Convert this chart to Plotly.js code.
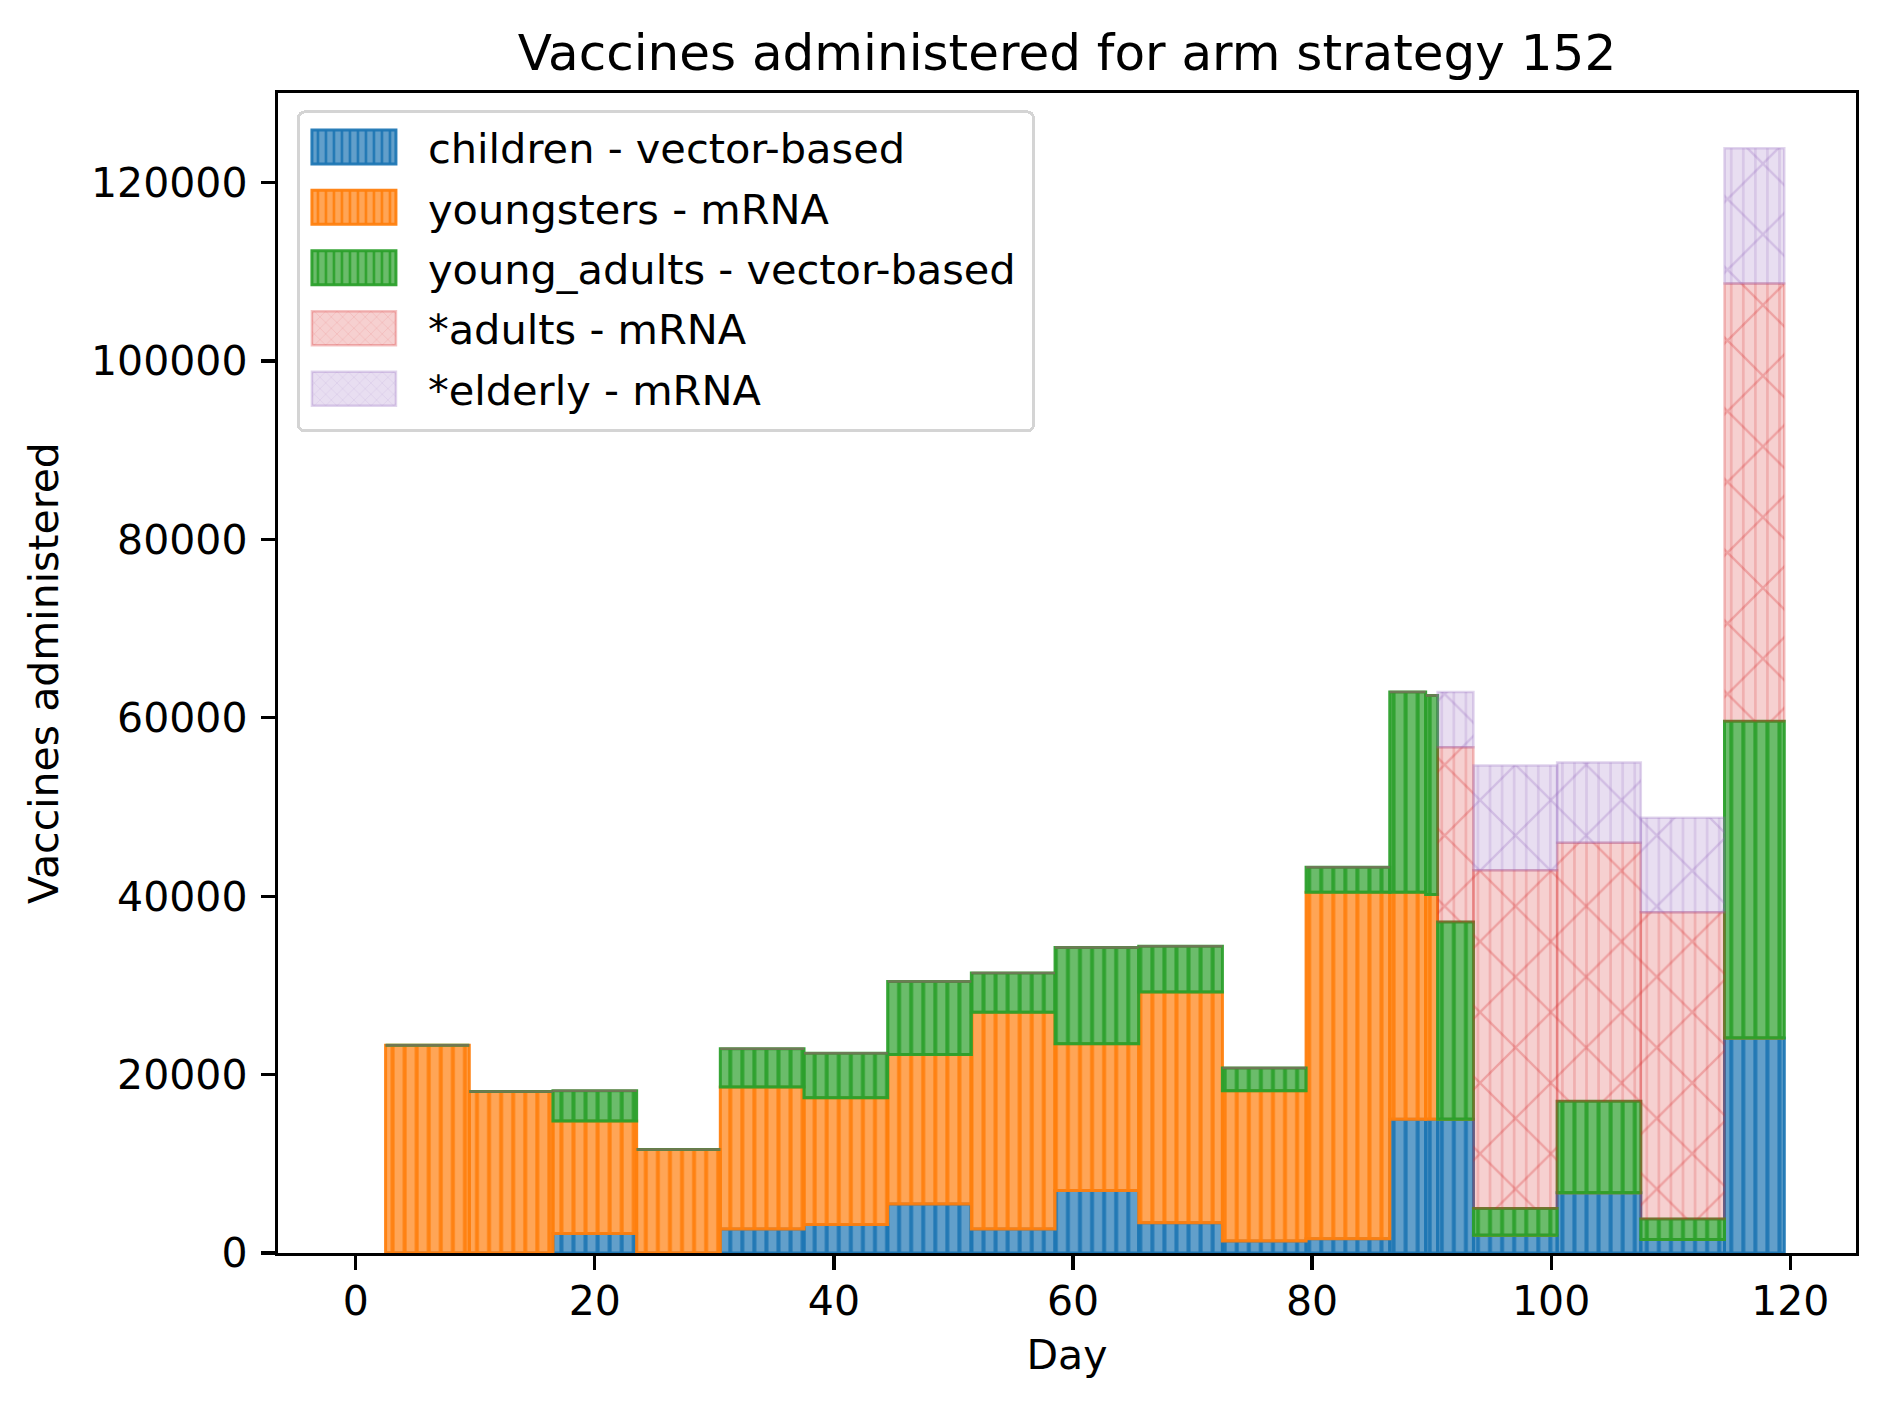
<!DOCTYPE html>
<html>
<head>
<meta charset="utf-8">
<script src="https://cdn.plot.ly/plotly-3.0.1.min.js"></script>
<style>html,body{margin:0;padding:0;background:#fff;}</style>
</head>
<body>
<div id="chart" style="width:1887px;height:1408px;"></div>
<script>
// Segments of days (bar edges) and vaccines administered per day in each segment, per group
const segStart = [2.5, 9.5, 16.5, 23.5, 30.5, 37.5, 44.5, 51.5, 58.5, 65.5, 72.5, 79.5, 86.5, 89.5, 90.5, 93.5, 100.5, 107.5, 114.5];
const segEnd   = [9.5, 16.5, 23.5, 30.5, 37.5, 44.5, 51.5, 58.5, 65.5, 72.5, 79.5, 86.5, 89.5, 90.5, 93.5, 100.5, 107.5, 114.5, 119.5];

const children    = [0, 0, 2200, 0, 2700, 3200, 5500, 2700, 7000, 3400, 1350, 1600, 15000, 15000, 15000, 2000, 6750, 1500, 24100];
const youngsters  = [23300, 18100, 12600, 11600, 15900, 14200, 16750, 24300, 16450, 25850, 16850, 38850, 25450, 25200, 0, 0, 0, 0, 0];
const youngAdults = [0, 0, 3400, 0, 4300, 5000, 8200, 4400, 10800, 5150, 2550, 2800, 22450, 22300, 22100, 3000, 10250, 2300, 35500];
const adults      = [0, 0, 0, 0, 0, 0, 0, 0, 0, 0, 0, 0, 0, 0, 19600, 37900, 29000, 34400, 49100];
const elderly     = [0, 0, 0, 0, 0, 0, 0, 0, 0, 0, 0, 0, 0, 0, 6200, 11750, 9000, 10600, 15150];

const seriesNames = ['children - vector-based', 'youngsters - mRNA', 'young_adults - vector-based', '*adults - mRNA', '*elderly - mRNA'];
const seriesValues = [children, youngsters, youngAdults, adults, elderly];

const xTicks = [0, 20, 40, 60, 80, 100, 120];
const yTicks = [0, 20000, 40000, 60000, 80000, 100000, 120000];

// styles (not data)
const styles = [
  {rgb: [31, 119, 180],  face: 0.7,  edge: 0.95, hatch: false},
  {rgb: [255, 127, 14],  face: 0.7,  edge: 0.95, hatch: false},
  {rgb: [44, 160, 44],   face: 0.7,  edge: 0.95, hatch: false},
  {rgb: [214, 39, 40],   face: 0.22, edge: 0.28, hatch: true},
  {rgb: [148, 103, 189], face: 0.22, edge: 0.28, hatch: true}
];

const FONT = 'DejaVu Sans, Verdana, sans-serif';
const centers = segStart.map((s, i) => (s + segEnd[i]) / 2);
const widths = segStart.map((s, i) => segEnd[i] - s);

let base = segStart.map(() => 0);
const traces = [];
seriesValues.forEach((vals, k) => {
  const st = styles[k];
  const rgba = a => 'rgba(' + st.rgb.join(',') + ',' + a + ')';
  const b = base.slice();
  traces.push({
    type: 'bar', x: centers, y: vals, base: b, width: widths,
    name: seriesNames[k], legendgroup: 'g' + k,
    hoverinfo: 'skip',
    marker: {
      color: rgba(st.face),
      line: {color: rgba(st.edge), width: st.hatch ? 2.5 : 3},
      pattern: st.hatch
        ? {shape: 'x', fgcolor: rgba(st.edge), bgcolor: rgba(st.face), size: 50, solidity: 0.09, fillmode: 'replace'}
        : {shape: '|', fgcolor: rgba(st.edge), bgcolor: rgba(st.face), size: 12.06, solidity: 0.33, fillmode: 'replace'}
    }
  });
  if (st.hatch) {
    traces.push({
      type: 'bar', x: centers, y: vals, base: b, width: widths,
      showlegend: false, hoverinfo: 'skip',
      marker: {
        color: 'rgba(0,0,0,0)',
        line: {width: 0},
        pattern: {shape: '|', fgcolor: rgba(0.2), bgcolor: 'rgba(0,0,0,0)', size: 12.06, solidity: 0.22, fillmode: 'replace'}
      }
    });
  }
  base = base.map((v, i) => v + vals[i]);
});
const yMax = Math.max(...base) * 1.05;

const layout = {
  width: 1887, height: 1408,
  paper_bgcolor: '#fff', plot_bgcolor: '#fff',
  margin: {l: 278, r: 31, t: 93, b: 155},
  barmode: 'overlay',
  font: {family: FONT, color: '#000', size: 41},
  title: {
    text: 'Vaccines administered for arm strategy 152',
    font: {family: FONT, size: 50, color: '#000'},
    x: 0.5, xref: 'paper', xanchor: 'center',
    y: 1 - 52 / 1408, yref: 'container', yanchor: 'middle'
  },
  xaxis: {
    range: [-6.5, 125.5], tickvals: xTicks, ticktext: xTicks.map(String),
    showgrid: false, zeroline: false,
    showline: true, linecolor: '#000', linewidth: 3.3, mirror: true,
    ticks: 'outside', ticklen: 14, tickwidth: 3.3, tickcolor: '#000',
    ticklabelstandoff: -5,
    tickfont: {family: FONT, size: 41, color: '#000'},
    title: {text: 'Day', font: {family: FONT, size: 41, color: '#000'}, standoff: 17}
  },
  yaxis: {
    range: [0, yMax], tickvals: yTicks, ticktext: yTicks.map(String),
    showgrid: false, zeroline: false,
    showline: true, linecolor: '#000', linewidth: 3.3, mirror: true,
    ticks: 'outside', ticklen: 14, tickwidth: 3.3, tickcolor: '#000',
    ticklabelstandoff: 5,
    tickfont: {family: FONT, size: 41, color: '#000'},
    title: {text: 'Vaccines administered', font: {family: FONT, size: 41, color: '#000'}, standoff: 20}
  },
  legend: {
    x: 0.012, y: 0.985, xanchor: 'left', yanchor: 'top',
    bgcolor: 'rgba(255,255,255,0.8)', bordercolor: '#d4d4d4', borderwidth: 3,
    font: {family: FONT, size: 41.5, color: '#000'},
    traceorder: 'grouped', tracegroupgap: 3.5, itemwidth: 118
  }
};

Plotly.newPlot('chart', traces, layout, {displayModeBar: false, staticPlot: true}).then(gd => {
  try {
    gd.querySelectorAll('.legend .legendpoints path').forEach(p => {
      p.setAttribute('d', 'M42,17H-42V-17H42Z');
      p.setAttribute('transform', 'translate(54,0)');
    });
    const bg = gd.querySelector('.legend .bg');
    if (bg) {
      const w = parseFloat(bg.getAttribute('width'));
      const h = parseFloat(bg.getAttribute('height'));
      bg.setAttribute('width', w + 11);
      bg.setAttribute('height', h + 7);
      bg.setAttribute('rx', 6);
      bg.setAttribute('ry', 6);
    }
  } catch (e) {}
});
</script>
</body>
</html>
